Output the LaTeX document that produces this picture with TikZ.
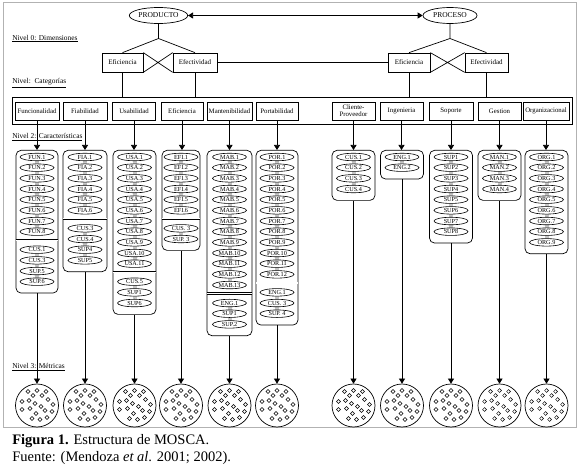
\documentclass[tikz,border=0pt]{standalone}
\usepackage{fontspec}
\setmainfont{Liberation Serif}
\usetikzlibrary{arrows.meta,positioning,shapes.geometric}
\tikzset{
  dimell/.style={draw, ellipse, minimum width=51pt, minimum height=16pt, inner sep=0.5pt,
                 font=\fontsize{7.5}{8}\selectfont},
  dimbox/.style={draw, minimum width=42pt, minimum height=19pt, inner sep=0.5pt,
                 font=\fontsize{7}{8}\selectfont},
  catbox/.style={draw, minimum height=18pt, inner sep=0.3pt, align=center,
                 font=\fontsize{6.8}{7}\selectfont},
  colbox/.style={draw, rounded corners=5pt, inner sep=0pt},
  item/.style={draw, ellipse, minimum width=34pt, minimum height=7.5pt, inner sep=0pt,
               line width=0.6pt, font=\fontsize{6.2}{6}\selectfont},
  link/.style={draw=gray!45, line width=4pt},
  sepline/.style={double, double distance=1.3pt, line width=0.5pt},
  metric/.style={draw, circle, minimum size=43pt, inner sep=0pt},
  dot/.style={line width=0.5pt},
  lvl/.style={anchor=west, inner sep=0pt, font=\fontsize{7.4}{8}\selectfont},
  arrow/.style={-{Triangle[length=5pt,width=6pt]}},
  biarrow/.style={<->, >={Triangle[length=5pt,width=6pt]}},
  caption/.style={anchor=west, inner sep=0pt, font=\fontsize{14.5}{16}\selectfont},
  frame/.style={draw=gray!60, line width=1pt}
}
\begin{document}
\begin{tikzpicture}[x=1pt, y=-1pt, line width=0.7pt]
  \useasboundingbox (0,0) rectangle (579,473);
  \draw[frame] (3,3) rectangle (576,427);

  % Nivel 0
  \node[dimell] (prod) at (158.5,15.5) {PRODUCTO};
  \node[dimell, minimum width=54pt] (proc) at (450,15.5) {PROCESO};
  \draw[biarrow] (prod) -- (proc);
  \node[dimbox, minimum width=41pt] (pefi) at (122.5,62.5) {Eficiencia};
  \node[dimbox, minimum width=44pt] (pefe) at (195,62.5) {Efectividad};
  \node[dimbox] (qefi) at (409,62.5) {Eficiencia};
  \node[dimbox, minimum width=43pt] (qefe) at (486.5,62.5) {Efectividad};
  \coordinate (ptop) at (158.5,38.5);
  \coordinate (qtop) at (450,38.5);
  \draw (prod) -- (ptop) -- (pefi.north) (ptop) -- (pefe.north);
  \draw (proc) -- (qtop) -- (qefi.north) (qtop) -- (qefe.north);
  \draw (pefi.north east) -- (pefe.south west) (pefi.south east) -- (pefe.north west);
  \draw (qefi.north east) -- (qefe.south west) (qefi.south east) -- (qefe.north west);
  \draw (pefe) -- (qefi);

  \node[lvl] (lv0) at (12,38.5) {\underline{Nivel 0: Dimensiones}};
  \node[lvl] (lv1) at (12,83) {\underline{Nivel:\ \ Categorías}};
  \node[lvl] (lv2) at (12,137) {\underline{Nivel 2: Características}};
  \node[lvl] (lv3) at (12,367) {\underline{Nivel 3: Métricas}};

  % Nivel 1
  \node[draw, minimum width=560pt, minimum height=27pt, anchor=north west, inner sep=0pt]
    (lvl1) at (12,97) {};
  \foreach \d in {pefi,pefe,qefi,qefe}
    \draw (\d) -- (\d |- lvl1.north);
  \foreach \nm/\cx/\kw/\txt in {Fun/37/44/Funcionalidad, Fia/85/44/Fiabilidad,
      Usa/134/43/Usabilidad, Efi/182/42/Eficiencia, Mab/229.5/45/Mantenibilidad,
      Por/277/42/Portabilidad, Cli/353.5/43/{Cliente-\\Proveedor}, Ing/401.5/43/Ingenieria,
      Sop/451/44/Soporte, Ges/499.5/43/Gestion, Org/546/46/Organizacional}
    \node[catbox, minimum width=\kw pt] (cat\nm) at (\cx,111) {\txt};

  % Nivel 2 (producto)
  \foreach \nm/\cx/\cw/\pre/\n/\m/\extra in {
      Fun/37/42/FUN./8/4/{CUS.1,CUS.3,SUP.5,SUP.6},
      Fia/85/44/FIA./6/4/{CUS.3,CUS.4,SUP4,SUP5},
      Usa/134.5/43/USA./11/3/{CUS.5,SUP1,SUP6},
      Efi/181/38/EFI./6/2/{CUS. 3,SUP. 3},
      Mab/229.5/45/MAB./13/3/{ENG.1,SUP1,SUP.2},
      Por/277/42/POR./12/3/{ENG.1,CUS. 3,SUP. 4}} {
    \pgfmathsetmacro\last{157+(\n-1)*10.67}
    \pgfmathsetmacro\hgt{\last+18+(\m-1)*10.67+11-150}
    \node[colbox, minimum width=\cw pt, minimum height=\hgt pt, anchor=north] (col\nm) at (\cx,150) {};
    \foreach \i in {2,...,\n} {
      \pgfmathtruncatemacro\h{\i-1}
      \draw[link] (\cx,{157+(\h-1)*10.67}) -- (\cx,{157+(\i-1)*10.67});
    }
    \foreach \i in {2,...,\m} {
      \pgfmathtruncatemacro\h{\i-1}
      \draw[link] (\cx,{\last+18+(\h-1)*10.67}) -- (\cx,{\last+18+(\i-1)*10.67});
    }
    \foreach \i in {1,...,\n}
      \node[item, fill=white] (\nm\i) at (\cx,{157+(\i-1)*10.67}) {\pre\i};
    \foreach \t [count=\j] in \extra
      \node[item, fill=white] (\nm b\j) at (\cx,{\last+18+(\j-1)*10.67}) {\t};
    \coordinate (s\nm) at (\cx,\last+8.5);
    \draw[sepline] (col\nm.west |- s\nm) -- (col\nm.east |- s\nm);
  }

  % Nivel 2 (proceso)
  \foreach \nm/\cx/\pre/\n in {Cli/353.5/CUS./4, Ing/402/ENG./2, Sop/451/SUP/8,
      Ges/499.5/MAN./4, Org/546.5/ORG./9} {
    \pgfmathsetmacro\hgt{157+(\n-1)*10.67+11-150}
    \node[colbox, minimum width=43pt, minimum height=\hgt pt, anchor=north] (col\nm) at (\cx,150) {};
    \foreach \i in {2,...,\n} {
      \pgfmathtruncatemacro\h{\i-1}
      \draw[link] (\cx,{157+(\h-1)*10.67}) -- (\cx,{157+(\i-1)*10.67});
    }
    \foreach \i in {1,...,\n}
      \node[item, fill=white] (\nm\i) at (\cx,{157+(\i-1)*10.67}) {\pre\i};
  }

  % Nivel 3
  \coordinate (mline) at (0,405.5);
  \foreach \nm in {Fun,Fia,Usa,Efi,Mab,Por,Cli,Ing,Sop,Ges,Org} {
    \draw[arrow] (cat\nm.south) -- (cat\nm.south |- col\nm.north);
    \node[metric] (met\nm) at (col\nm |- mline) {};
    \draw[arrow] (col\nm) -- (met\nm);
    \foreach \dx/\dy in {-9/-14,-4/-10,0/-15,5/-10,9/-14,-15/-4,-8/-5,11/-6,16/-1,
        -2/-2,4/1,-15/4,-7/3,-1/8,8/5,15/6,-5/13,3/14,10/12}
      \draw[dot] (met\nm) ++(\dx,\dy) circle (1.9);
  }

  % pie de figura
  \node[caption] (cap1) at (12,441) {\textbf{Figura 1.} Estructura de MOSCA.};
  \node[caption] (cap2) at (12,458) {Fuente: (Mendoza \textit{et al}. 2001; 2002).};
\end{tikzpicture}
\end{document}
